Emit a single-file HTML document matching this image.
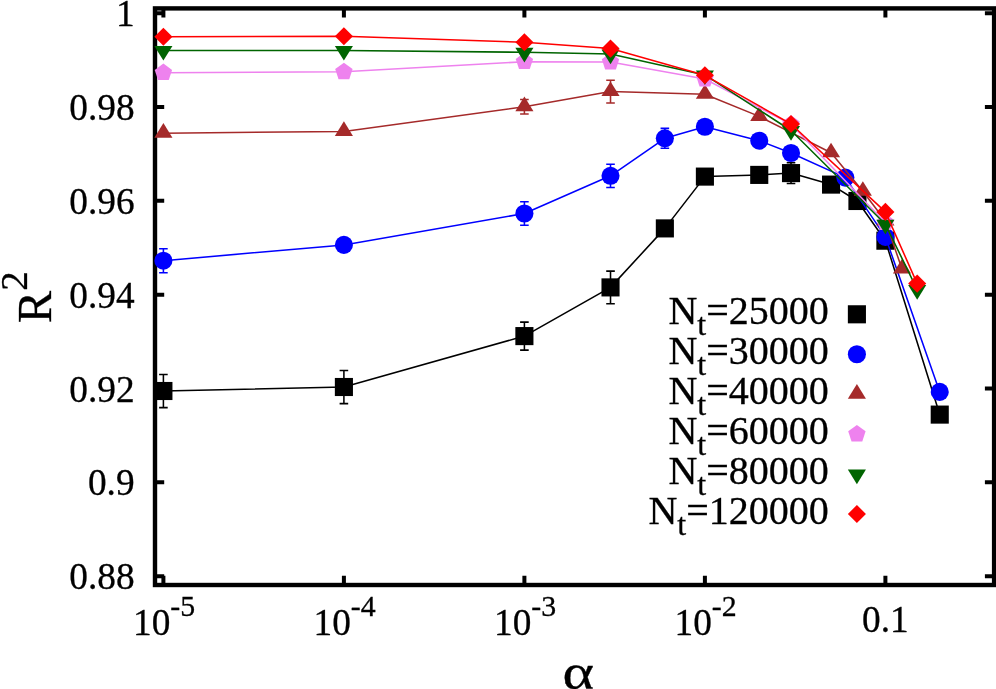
<!DOCTYPE html>
<html lang="en"><head><meta charset="utf-8"><title>R2 vs alpha</title>
<style>html,body{margin:0;padding:0;background:#fff}body{width:996px;height:689px;overflow:hidden}svg{display:block}</style>
</head><body>
<svg width="996" height="689" viewBox="0 0 996 689" font-family='"Liberation Serif", "Times New Roman", Times, serif'>
<style>text{stroke:#000;stroke-width:0.3px;paint-order:stroke}</style>
<rect width="996" height="689" fill="#fff"/>
<rect x="155.0" y="8.4" width="839.1" height="576.6" fill="none" stroke="#000" stroke-width="4.4"/>
<path d="M163.40 585.0V575.8M163.40 8.4V17.6M343.90 585.0V575.8M343.90 8.4V17.6M524.40 585.0V575.8M524.40 8.4V17.6M704.90 585.0V575.8M704.90 8.4V17.6M885.40 585.0V575.8M885.40 8.4V17.6M155.0 13.20H164.2M994.1 13.20H984.9M155.0 107.03H164.2M994.1 107.03H984.9M155.0 200.86H164.2M994.1 200.86H984.9M155.0 294.69H164.2M994.1 294.69H984.9M155.0 388.52H164.2M994.1 388.52H984.9M155.0 482.35H164.2M994.1 482.35H984.9M155.0 576.18H164.2M994.1 576.18H984.9" stroke="#000" stroke-width="4.0" fill="none"/>
<g font-size="37.3" text-anchor="end" fill="#000">
<text x="134.6" y="26.20">1</text>
<text x="134.6" y="120.03">0.98</text>
<text x="134.6" y="213.86">0.96</text>
<text x="134.6" y="307.69">0.94</text>
<text x="134.6" y="401.52">0.92</text>
<text x="134.6" y="495.35">0.9</text>
<text x="134.6" y="589.18">0.88</text>
</g>
<g font-size="37.3" text-anchor="middle" fill="#000">
<text x="164.10" y="635"><tspan>10</tspan><tspan font-size="29.84" dy="-18.8">-5</tspan></text>
<text x="344.60" y="635"><tspan>10</tspan><tspan font-size="29.84" dy="-18.8">-4</tspan></text>
<text x="525.10" y="635"><tspan>10</tspan><tspan font-size="29.84" dy="-18.8">-3</tspan></text>
<text x="705.60" y="635"><tspan>10</tspan><tspan font-size="29.84" dy="-18.8">-2</tspan></text>
<text x="885.40" y="632">0.1</text>
</g>
<text transform="translate(578.2 689.4) scale(1.19 1)" font-size="50.5" text-anchor="middle">α</text>
<text transform="translate(50.8 323.2) rotate(-90)" font-size="48.5"><tspan>R</tspan><tspan font-size="38.80" dy="-24">2</tspan></text>
<g>
<text x="828.8" y="323.80" font-size="40.0" text-anchor="end" fill="#000"><tspan>N</tspan><tspan font-size="32.00" dy="11.1">t</tspan><tspan dy="-11.1">=25000</tspan></text>
<path d="M163.40 374.40V407.60M159.10 374.40H167.70M159.10 407.60H167.70M343.90 370.40V403.60M339.60 370.40H348.20M339.60 403.60H348.20M524.40 322.10V350.10M520.10 322.10H528.70M520.10 350.10H528.70M610.52 271.10V303.70M606.22 271.10H614.82M606.22 303.70H614.82M791.02 162.80V183.40M786.72 162.80H795.32M786.72 183.40H795.32" stroke="#000000" stroke-width="1.55" fill="none"/>
<path d="M163.40 391.00L343.90 387.00L524.40 336.10L610.52 287.40L664.86 228.40L704.90 176.60L759.24 174.90L791.02 173.10L831.06 184.60L857.44 201.00L885.40 240.70L939.74 414.60" stroke="#000000" stroke-width="1.55" fill="none" stroke-linejoin="round"/>
<rect x="154.35" y="381.95" width="18.10" height="18.10" fill="#000000"/>
<rect x="334.85" y="377.95" width="18.10" height="18.10" fill="#000000"/>
<rect x="515.35" y="327.05" width="18.10" height="18.10" fill="#000000"/>
<rect x="601.47" y="278.35" width="18.10" height="18.10" fill="#000000"/>
<rect x="655.81" y="219.35" width="18.10" height="18.10" fill="#000000"/>
<rect x="695.85" y="167.55" width="18.10" height="18.10" fill="#000000"/>
<rect x="750.19" y="165.85" width="18.10" height="18.10" fill="#000000"/>
<rect x="781.97" y="164.05" width="18.10" height="18.10" fill="#000000"/>
<rect x="822.01" y="175.55" width="18.10" height="18.10" fill="#000000"/>
<rect x="848.39" y="191.95" width="18.10" height="18.10" fill="#000000"/>
<rect x="876.35" y="231.65" width="18.10" height="18.10" fill="#000000"/>
<rect x="930.69" y="405.55" width="18.10" height="18.10" fill="#000000"/>
<rect x="847.85" y="305.25" width="18.10" height="18.10" fill="#000000"/>
</g>
<g>
<text x="828.8" y="363.74" font-size="40.0" text-anchor="end" fill="#000"><tspan>N</tspan><tspan font-size="32.00" dy="11.1">t</tspan><tspan dy="-11.1">=30000</tspan></text>
<path d="M163.40 248.70V272.70M159.10 248.70H167.70M159.10 272.70H167.70M524.40 201.80V225.20M520.10 201.80H528.70M520.10 225.20H528.70M610.52 164.20V187.40M606.22 164.20H614.82M606.22 187.40H614.82M664.86 128.40V148.20M660.56 128.40H669.16M660.56 148.20H669.16" stroke="#0000ff" stroke-width="1.55" fill="none"/>
<path d="M163.40 260.70L343.90 244.90L524.40 213.50L610.52 175.80L664.86 138.30L704.90 126.75L759.24 140.70L791.02 153.00L845.36 177.60L885.40 236.90L939.74 391.90" stroke="#0000ff" stroke-width="1.55" fill="none" stroke-linejoin="round"/>
<circle cx="163.40" cy="260.70" r="9.05" fill="#0000ff"/>
<circle cx="343.90" cy="244.90" r="9.05" fill="#0000ff"/>
<circle cx="524.40" cy="213.50" r="9.05" fill="#0000ff"/>
<circle cx="610.52" cy="175.80" r="9.05" fill="#0000ff"/>
<circle cx="664.86" cy="138.30" r="9.05" fill="#0000ff"/>
<circle cx="704.90" cy="126.75" r="9.05" fill="#0000ff"/>
<circle cx="759.24" cy="140.70" r="9.05" fill="#0000ff"/>
<circle cx="791.02" cy="153.00" r="9.05" fill="#0000ff"/>
<circle cx="845.36" cy="177.60" r="9.05" fill="#0000ff"/>
<circle cx="885.40" cy="236.90" r="9.05" fill="#0000ff"/>
<circle cx="939.74" cy="391.90" r="9.05" fill="#0000ff"/>
<circle cx="856.90" cy="354.24" r="9.05" fill="#0000ff"/>
</g>
<g>
<text x="828.8" y="403.68" font-size="40.0" text-anchor="end" fill="#000"><tspan>N</tspan><tspan font-size="32.00" dy="11.1">t</tspan><tspan dy="-11.1">=40000</tspan></text>
<path d="M524.40 99.40V114.00M520.10 99.40H528.70M520.10 114.00H528.70M610.52 80.30V102.90M606.22 80.30H614.82M606.22 102.90H614.82" stroke="#a52a2a" stroke-width="1.55" fill="none"/>
<path d="M163.40 133.20L343.90 131.40L524.40 106.70L610.52 91.60L704.90 94.30L759.24 116.40L831.06 152.80L862.85 191.30L885.40 221.00L902.00 269.00" stroke="#a52a2a" stroke-width="1.55" fill="none" stroke-linejoin="round"/>
<path d="M163.40 123.06L154.35 137.72H172.45Z" fill="#a52a2a"/>
<path d="M343.90 121.26L334.85 135.93H352.95Z" fill="#a52a2a"/>
<path d="M524.40 96.56L515.35 111.23H533.45Z" fill="#a52a2a"/>
<path d="M610.52 81.46L601.47 96.12H619.57Z" fill="#a52a2a"/>
<path d="M704.90 84.16L695.85 98.83H713.95Z" fill="#a52a2a"/>
<path d="M759.24 106.26L750.19 120.93H768.29Z" fill="#a52a2a"/>
<path d="M831.06 142.66L822.01 157.33H840.11Z" fill="#a52a2a"/>
<path d="M862.85 181.16L853.80 195.83H871.90Z" fill="#a52a2a"/>
<path d="M885.40 210.86L876.35 225.53H894.45Z" fill="#a52a2a"/>
<path d="M902.00 258.86L892.95 273.52H911.05Z" fill="#a52a2a"/>
<path d="M856.90 384.04L847.85 398.70H865.95Z" fill="#a52a2a"/>
</g>
<g>
<text x="828.8" y="443.62" font-size="40.0" text-anchor="end" fill="#000"><tspan>N</tspan><tspan font-size="32.00" dy="11.1">t</tspan><tspan dy="-11.1">=60000</tspan></text>
<path d="M163.40 72.70L343.90 71.80L524.40 61.70L610.52 62.00L704.90 79.00L791.02 124.30L885.40 222.70" stroke="#ee82ee" stroke-width="1.55" fill="none" stroke-linejoin="round"/>
<path d="M163.40 63.56L172.09 69.88L168.77 80.09L158.03 80.09L154.71 69.88Z" fill="#ee82ee"/>
<path d="M343.90 62.66L352.59 68.98L349.27 79.19L338.53 79.19L335.21 68.98Z" fill="#ee82ee"/>
<path d="M524.40 52.56L533.09 58.88L529.77 69.09L519.03 69.09L515.71 58.88Z" fill="#ee82ee"/>
<path d="M610.52 52.86L619.21 59.18L615.89 69.39L605.15 69.39L601.83 59.18Z" fill="#ee82ee"/>
<path d="M704.90 69.86L713.59 76.18L710.27 86.39L699.53 86.39L696.21 76.18Z" fill="#ee82ee"/>
<path d="M791.02 115.16L799.71 121.48L796.39 131.69L785.65 131.69L782.33 121.48Z" fill="#ee82ee"/>
<path d="M885.40 213.56L894.09 219.88L890.77 230.09L880.03 230.09L876.71 219.88Z" fill="#ee82ee"/>
<path d="M856.90 424.98L865.59 431.30L862.27 441.51L851.53 441.51L848.21 431.30Z" fill="#ee82ee"/>
</g>
<g>
<text x="828.8" y="483.56" font-size="40.0" text-anchor="end" fill="#000"><tspan>N</tspan><tspan font-size="32.00" dy="11.1">t</tspan><tspan dy="-11.1">=80000</tspan></text>
<path d="M163.40 50.40L343.90 50.40L524.40 52.30L610.52 54.10L704.90 74.90L791.02 130.50L885.40 224.30L917.18 289.60" stroke="#006400" stroke-width="1.55" fill="none" stroke-linejoin="round"/>
<path d="M163.40 60.54L154.35 45.88H172.45Z" fill="#006400"/>
<path d="M343.90 60.54L334.85 45.88H352.95Z" fill="#006400"/>
<path d="M524.40 62.44L515.35 47.77H533.45Z" fill="#006400"/>
<path d="M610.52 64.24L601.47 49.58H619.57Z" fill="#006400"/>
<path d="M704.90 85.04L695.85 70.38H713.95Z" fill="#006400"/>
<path d="M791.02 140.64L781.97 125.97H800.07Z" fill="#006400"/>
<path d="M885.40 234.44L876.35 219.78H894.45Z" fill="#006400"/>
<path d="M917.18 299.74L908.13 285.08H926.23Z" fill="#006400"/>
<path d="M856.90 484.20L847.85 469.54H865.95Z" fill="#006400"/>
</g>
<g>
<text x="828.8" y="523.50" font-size="40.0" text-anchor="end" fill="#000"><tspan>N</tspan><tspan font-size="32.00" dy="11.1">t</tspan><tspan dy="-11.1">=120000</tspan></text>
<path d="M163.40 36.70L343.90 36.20L524.40 42.20L610.52 48.60L704.90 75.30L791.02 124.00L885.40 211.90L917.18 283.60" stroke="#ff0000" stroke-width="1.55" fill="none" stroke-linejoin="round"/>
<path d="M163.40 27.65L172.45 36.70L163.40 45.75L154.35 36.70Z" fill="#ff0000"/>
<path d="M343.90 27.15L352.95 36.20L343.90 45.25L334.85 36.20Z" fill="#ff0000"/>
<path d="M524.40 33.15L533.45 42.20L524.40 51.25L515.35 42.20Z" fill="#ff0000"/>
<path d="M610.52 39.55L619.57 48.60L610.52 57.65L601.47 48.60Z" fill="#ff0000"/>
<path d="M704.90 66.25L713.95 75.30L704.90 84.35L695.85 75.30Z" fill="#ff0000"/>
<path d="M791.02 114.95L800.07 124.00L791.02 133.05L781.97 124.00Z" fill="#ff0000"/>
<path d="M885.40 202.85L894.45 211.90L885.40 220.95L876.35 211.90Z" fill="#ff0000"/>
<path d="M917.18 274.55L926.23 283.60L917.18 292.65L908.13 283.60Z" fill="#ff0000"/>
<path d="M856.90 504.95L865.95 514.00L856.90 523.05L847.85 514.00Z" fill="#ff0000"/>
</g>
</svg>
</body></html>
